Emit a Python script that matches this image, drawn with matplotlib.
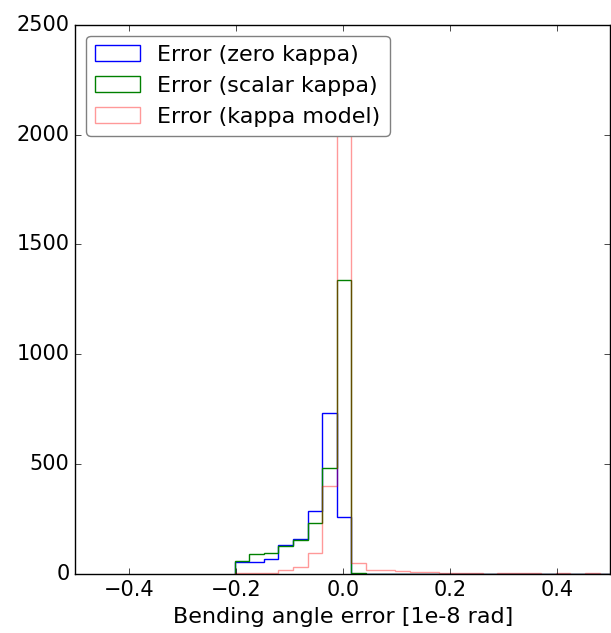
import numpy as np
import matplotlib
matplotlib.use("Agg")
import matplotlib.pyplot as plt

plt.style.use("classic")

# histogram bin edges (shared by the three error histograms)
bin_start = -0.2019
bin_width = 0.02727
n_bins = 27
edges = bin_start + bin_width * np.arange(n_bins + 1)
centers = 0.5 * (edges[:-1] + edges[1:])

# counts per bin
zero_kappa = [55, 55, 70, 132, 162, 288, 732, 260, 0,
              0, 0, 0, 0, 0, 0, 0, 0, 0, 0, 0, 0, 0, 0, 0, 0, 0, 0]
scalar_kappa = [59, 90, 97, 129, 155, 231, 481, 1339, 3,
                2, 2, 2, 2, 2, 1, 0, 0, 0, 0, 0, 0, 0, 0, 0, 0, 0, 0]
kappa_model = [3, 4, 5, 18, 33, 97, 400, 2182, 52,
               18, 21, 14, 11, 8, 4, 6, 4, 2, 4, 4, 6, 2, 5, 2, 3, 2, 2]

labels = ["Error (zero kappa)", "Error (scalar kappa)", "Error (kappa model)"]

fig = plt.figure(figsize=(6.11, 6.33), dpi=100, facecolor="white")
ax = fig.add_axes([0.123, 0.093, 0.876, 0.868])

ax.hist(centers, bins=edges, weights=zero_kappa, histtype="step",
        color="b", label=labels[0])
ax.hist(centers, bins=edges, weights=scalar_kappa, histtype="step",
        color="g", label=labels[1])
ax.hist(centers, bins=edges, weights=kappa_model, histtype="step",
        color="r", alpha=0.4, label=labels[2])

ax.set_xlim(-0.5, 0.5)
ax.set_ylim(0, 2500)
ax.set_xticks([-0.4, -0.2, 0.0, 0.2, 0.4])
ax.set_yticks([0, 500, 1000, 1500, 2000, 2500])
ax.tick_params(labelsize=15)
ax.set_xlabel("Bending angle error [1e-8 rad]", fontsize=16)

leg = ax.legend(loc="upper left", fontsize=16, fancybox=True)
leg.get_frame().set_edgecolor("0.5")

fig.savefig("out.png", dpi=100, facecolor="white")
